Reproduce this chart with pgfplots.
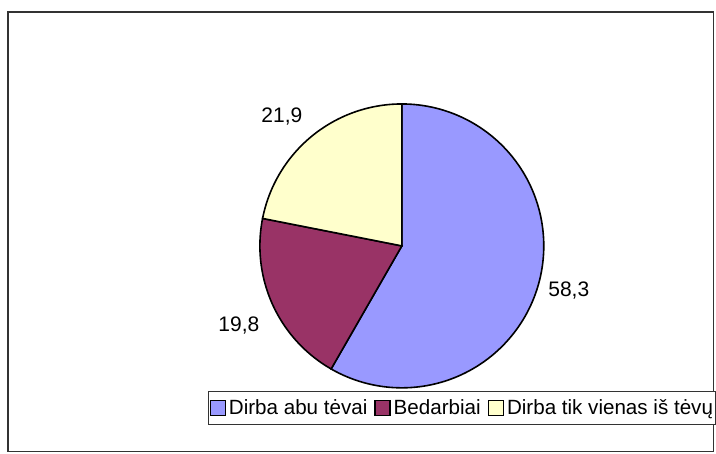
\documentclass[border=0pt]{standalone}
\usepackage{fontspec}
\setmainfont{Liberation Sans}
\usepackage{pgfplots}
\pgfplotsset{compat=1.18}
\definecolor{cblue}{HTML}{9999FF}
\definecolor{cmaroon}{HTML}{993366}
\definecolor{cyellow}{HTML}{FFFFCC}
% values (percent)
\def\va{58.3}
\def\vb{19.8}
\def\vc{21.9}
\begin{document}
\begin{tikzpicture}
\pgfmathsetmacro{\tot}{\va+\vb+\vc}
\pgfmathsetmacro{\aA}{90}
\pgfmathsetmacro{\aB}{90-360*(\va/\tot)}
\pgfmathsetmacro{\aC}{\aB-360*(\vb/\tot)}
\pgfmathsetmacro{\aD}{\aC-360*(\vc/\tot)}
\begin{axis}[
  scale only axis, width=716pt, height=454pt,
  xmin=0, xmax=716, ymin=0, ymax=454,
  axis lines=none, clip=false,
  legend columns=3,
  legend style={at={(axis cs:462,46)}, anchor=center, draw=black!80, line width=1pt,
    font=\fontsize{20.6}{24}\selectfont, inner xsep=1.5pt, inner ysep=3pt,
    nodes={inner xsep=1pt, inner ysep=5pt},
    /tikz/every odd column/.append style={column sep=2pt},
    /tikz/every even column/.append style={column sep=6pt}},
  legend image code/.code={\draw[#1,draw=black,line width=1.3pt] (0pt,-7.5pt) rectangle (15pt,7.5pt);},
]
\path (rel axis cs:0,0) rectangle (rel axis cs:1,1);
\draw[black!80, line width=1.2pt] (axis cs:8,442) rectangle (axis cs:714,2);
\addplot[fill=cblue, draw=black, line width=1.6pt, domain=\aB:\aA, samples=120, variable=\t]
  ({402+142*cos(t)},{208+142*sin(t)}) -- (axis cs:402,208) -- cycle;
\addlegendentry{Dirba abu tėvai}
\addplot[fill=cmaroon, draw=black, line width=1.6pt, domain=\aC:\aB, samples=60, variable=\t]
  ({402+142*cos(t)},{208+142*sin(t)}) -- (axis cs:402,208) -- cycle;
\addlegendentry{Bedarbiai}
\addplot[fill=cyellow, draw=black, line width=1.6pt, domain=\aD:\aC, samples=60, variable=\t]
  ({402+142*cos(t)},{208+142*sin(t)}) -- (axis cs:402,208) -- cycle;
\addlegendentry{Dirba tik vienas iš tėvų}
\node[font=\fontsize{21}{24}\selectfont] at (axis cs:569,163) {58,3};
\node[font=\fontsize{21}{24}\selectfont] at (axis cs:239,128) {19,8};
\node[font=\fontsize{21}{24}\selectfont] at (axis cs:282,337) {21,9};
\end{axis}
\end{tikzpicture}
\end{document}
